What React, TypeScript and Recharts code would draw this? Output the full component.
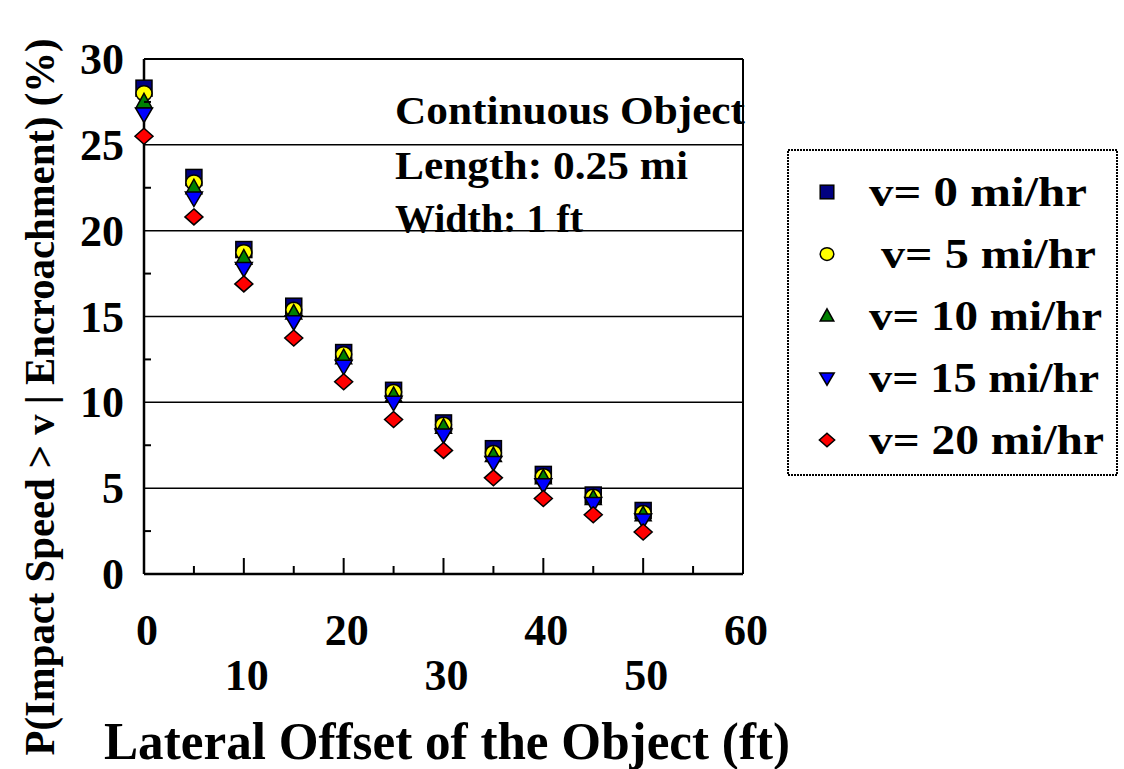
import { ScatterChart, Scatter, XAxis, YAxis, ReferenceLine, Legend } from "recharts"

const offsets = [0, 5, 10, 15, 20, 25, 30, 35, 40, 45, 50]
const v0 = [28.3, 23.1, 18.9, 15.6, 12.9, 10.7, 8.8, 7.3, 5.8, 4.6, 3.7]
const v5 = [28.0, 22.8, 18.75, 15.4, 12.8, 10.6, 8.7, 7.05, 5.7, 4.5, 3.55]
const v10 = [27.5, 22.5, 18.4, 15.2, 12.6, 10.4, 8.55, 6.9, 5.6, 4.4, 3.45]
const v15 = [26.8, 21.9, 17.8, 14.7, 12.1, 10.0, 8.1, 6.5, 5.2, 4.1, 3.15]
const v20 = [25.5, 20.8, 16.9, 13.75, 11.2, 9.0, 7.2, 5.6, 4.4, 3.45, 2.45]

const xTicks = [0, 5, 10, 15, 20, 25, 30, 35, 40, 45, 50, 55, 60]
const yTicks = [0, 2.5, 5, 7.5, 10, 12.5, 15, 17.5, 20, 22.5, 25, 27.5, 30]
const gridValues = [5, 10, 15, 20, 25]

const legendLabels = ["v= 0 mi/hr", "v= 5 mi/hr", "v= 10 mi/hr", "v= 15 mi/hr", "v= 20 mi/hr"]
const noteLines = ["Continuous Object", "Length: 0.25 mi", "Width: 1 ft"]

const FONT = "Times New Roman, Liberation Serif, serif"

const toPoints = (vals: number[]) => offsets.map((x, i) => ({ x, y: vals[i] }))

type Kind = "square" | "circle" | "up" | "down" | "diamond"

const marker = (kind: Kind, fill: string, cx: number, cy: number, s = 1) => {
  const st = { fill, stroke: "#000", strokeWidth: 1.5 }
  if (kind === "square") return <rect x={cx - 8 * s} y={cy - 8 * s} width={16 * s} height={16 * s} {...st} />
  if (kind === "circle") return <ellipse cx={cx} cy={cy} rx={8 * s} ry={7.5 * s} {...st} />
  if (kind === "up")
    return <polygon points={`${cx},${cy - 8.5 * s} ${cx + 8 * s},${cy + 6 * s} ${cx - 8 * s},${cy + 6 * s}`} {...st} />
  if (kind === "down")
    return <polygon points={`${cx - 8.5 * s},${cy - 6 * s} ${cx + 8.5 * s},${cy - 6 * s} ${cx},${cy + 8.5 * s}`} {...st} />
  return <polygon points={`${cx},${cy - 8 * s} ${cx + 9 * s},${cy} ${cx},${cy + 8 * s} ${cx - 9 * s},${cy}`} {...st} />
}

const series: { name: string; vals: number[]; kind: Kind; fill: string }[] = [
  { name: "v0", vals: v0, kind: "square", fill: "#000080" },
  { name: "v5", vals: v5, kind: "circle", fill: "#ffff00" },
  { name: "v10", vals: v10, kind: "up", fill: "#008000" },
  { name: "v15", vals: v15, kind: "down", fill: "#0000ff" },
  { name: "v20", vals: v20, kind: "diamond", fill: "#ff0000" },
]

const legendLengths = [218, 215, 233, 230, 235]
const legendX = [82, 94, 82, 82, 82]

const XTick = (props: any) => {
  const { x, y, payload } = props
  const v = payload.value
  const major = v % 10 === 0
  const row2 = (v / 10) % 2 === 1
  return (
    <g>
      {v > 0 && v < 60 && <line x1={x} y1={y} x2={x} y2={y - (major ? 16 : 8)} stroke="#000" strokeWidth={2} />}
      {major && (
        <text x={x + 3} y={y + (row2 ? 116 : 71)} textAnchor="middle" fontFamily={FONT} fontWeight="bold" fontSize={44} fill="#000">
          {v}
        </text>
      )}
    </g>
  )
}

const YTick = (props: any) => {
  const { x, y, payload } = props
  const v = payload.value
  const major = v % 5 === 0
  return (
    <g>
      {!major && <line x1={x} y1={y} x2={x + 7} y2={y} stroke="#000" strokeWidth={2} />}
      {major && (
        <text x={x - 20} y={y + 15} textAnchor="end" fontFamily={FONT} fontWeight="bold" fontSize={44} fill="#000">
          {v}
        </text>
      )}
    </g>
  )
}

const LegendBox = () => (
  <svg width={332} height={328} style={{ display: "block" }}>
    <rect x={1} y={1} width={329} height={325} fill="#fff" stroke="#000" strokeWidth={2} strokeDasharray="2 1" />
    {series.map((s, i) => (
      <g key={s.name}>
        {marker(s.kind, s.fill, 40, 43 + i * 62, 0.85)}
        <text
          x={legendX[i]}
          y={57 + i * 62}
          fontFamily={FONT}
          fontWeight="bold"
          fontSize={42}
          textLength={legendLengths[i]}
          lengthAdjust="spacingAndGlyphs"
          fill="#000"
        >
          {legendLabels[i]}
        </text>
      </g>
    ))}
  </svg>
)

export default function App() {
  return (
    <div style={{ position: "absolute", left: 0, top: 0, background: "#fff" }}>
      <ScatterChart width={1124} height={769} margin={{ top: 59, right: 381, bottom: 135, left: 84 }}>
        <XAxis
          type="number"
          dataKey="x"
          domain={[0, 60]}
          ticks={xTicks}
          interval={0}
          height={60}
          tickSize={0}
          tickMargin={0}
          tickLine={false}
          axisLine={{ stroke: "#000", strokeWidth: 2.5 }}
          tick={<XTick />}
        />
        <YAxis
          type="number"
          dataKey="y"
          domain={[0, 30]}
          ticks={yTicks}
          interval={0}
          width={60}
          tickSize={0}
          tickMargin={0}
          tickLine={false}
          axisLine={{ stroke: "#000", strokeWidth: 2.5 }}
          tick={<YTick />}
        />
        {gridValues.map((g) => (
          <ReferenceLine key={g} y={g} stroke="#000" strokeWidth={1.5} />
        ))}
        <ReferenceLine y={30} stroke="#000" strokeWidth={2} />
        <ReferenceLine x={60} stroke="#000" strokeWidth={2} />
        <Legend
          layout="horizontal"
          verticalAlign="middle"
          align="center"
          wrapperStyle={{ left: 787, top: 149, width: 332, height: 328 }}
          content={() => <LegendBox />}
        />
        {series.map((s) => (
          <Scatter
            key={s.name}
            name={s.name}
            data={toPoints(s.vals)}
            fill={s.fill}
            isAnimationActive={false}
            shape={(p: any) => marker(s.kind, s.fill, p.cx, p.cy)}
          />
        ))}
        {noteLines.map((t, i) => (
          <text
            key={t}
            x={395}
            y={[124, 179, 232][i]}
            fontFamily={FONT}
            fontWeight="bold"
            fontSize={40}
            textLength={[350, 293, 188][i]}
            lengthAdjust="spacingAndGlyphs"
            fill="#000"
          >
            {t}
          </text>
        ))}
        <text
          x={447}
          y={759}
          textAnchor="middle"
          fontFamily={FONT}
          fontWeight="bold"
          fontSize={52}
          textLength={686}
          lengthAdjust="spacingAndGlyphs"
          fill="#000"
        >
          Lateral Offset of the Object (ft)
        </text>
        <text
          x={54}
          y={397}
          transform="rotate(-90 54 397)"
          textAnchor="middle"
          fontFamily={FONT}
          fontWeight="bold"
          fontSize={42}
          textLength={717}
          lengthAdjust="spacingAndGlyphs"
          fill="#000"
        >
          P(Impact Speed &gt; v | Encroachment) (%)
        </text>
      </ScatterChart>
    </div>
  )
}
